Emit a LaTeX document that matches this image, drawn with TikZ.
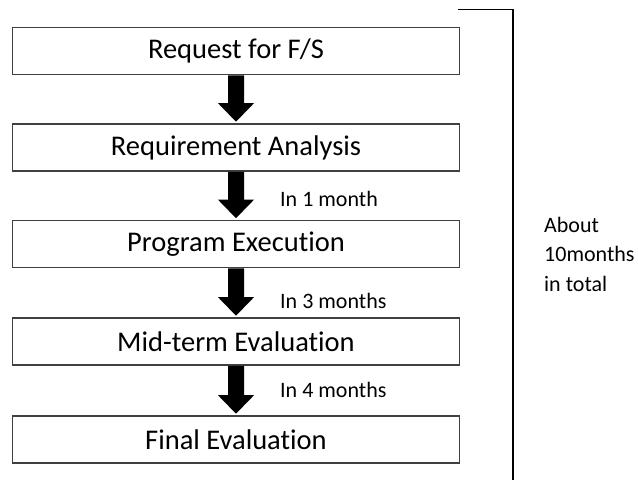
\documentclass[tikz,border=0pt]{standalone}
\usepackage{fontspec}
\setmainfont{Carlito}[Ligatures=NoCommon]
\usetikzlibrary{calc}
\definecolor{boxline}{gray}{0.25}
\tikzset{
  stagebox/.style={draw=boxline, line width=1.6pt, minimum width=447pt, minimum height=47pt,
    inner sep=0pt, font=\fontsize{28.5}{32}\selectfont},
  flowarrow/.style={fill=black, draw=none},
  notetext/.style={font=\fontsize{22}{26}\selectfont, anchor=west, inner sep=0pt},
}
\begin{document}
\begin{tikzpicture}[x=1pt, y=-1pt]
  \useasboundingbox (0,0) rectangle (638,480);
  % stages of the process
  \node[stagebox] (s1) at (236,51)    {Request for F/S};
  \node[stagebox] (s2) at (236,147.5) {Requirement Analysis};
  \node[stagebox] (s3) at (236,244)   {Program Execution};
  \node[stagebox] (s4) at (236,341.5) {Mid-term Evaluation};
  \node[stagebox] (s5) at (236,439.5) {Final Evaluation};
  % thick block arrows between stages
  \foreach \a/\b in {s1/s2, s2/s3, s3/s4, s4/s5} {
    \path (\a.south) coordinate (top) (\b.north) coordinate (bot);
    \fill[flowarrow] let \p1=(top), \p2=(bot) in
      (\x1-8pt,\y1) -- (\x1+8pt,\y1) -- (\x1+8pt,\y2+20pt) -- (\x1+18pt,\y2+20pt)
      -- (\x1,\y2+1.5pt) -- (\x1-18pt,\y2+20pt) -- (\x1-8pt,\y2+20pt) -- cycle;
  }
  % durations
  \node[notetext] (d1) at (280,198.5) {In 1 month};
  \node[notetext] (d2) at (280,301)   {In 3 months};
  \node[notetext] (d3) at (280,390)   {In 4 months};
  % overall bracket
  \coordinate (bk0) at (458,9.5);
  \coordinate (bk1) at (513,9.5);
  \coordinate (bk2) at (513,480);
  \draw[line width=1.2pt] (bk0) -- (bk1) -- (bk2);
  \node[notetext, align=left, font=\fontsize{22}{29.5}\selectfont] (tot) at (544,254)
    {About\\10months\\in total};
\end{tikzpicture}
\end{document}
